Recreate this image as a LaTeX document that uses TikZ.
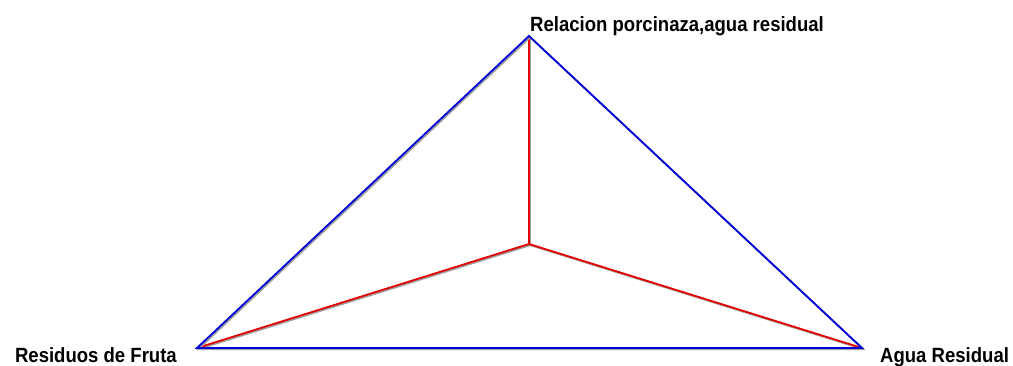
\documentclass[tikz,border=0pt]{standalone}
\usepackage{fontspec}
\setmainfont{Liberation Sans}[FakeStretch=0.9]
\usetikzlibrary{positioning}

\begin{document}
\begin{tikzpicture}[
  x=1pt, y=-1pt,
  every node/.style = {font=\bfseries\fontsize{20.6}{23}\selectfont, inner sep=0pt},
  side/.style = {
    blue!85!black,
    line width=1.8pt,
    line join=miter,
    preaction={draw=gray!75, line width=1.8pt,
      transform canvas={shift={(1.2pt,-1.2pt)}}}
  },
  spoke/.style = {
    red!90!black,
    line width=1.8pt,
    preaction={draw=gray!75, line width=1.8pt,
      transform canvas={shift={(1.2pt,-1.2pt)}}}
  }
]
\useasboundingbox (0,0) rectangle (1013,365);

\coordinate (top) at (529,36);
\coordinate (left) at (197,348);
\coordinate (right) at (862,348);
\coordinate (mid) at (529,244);

% spokes from the middle point
\draw[spoke] (mid) -- (top);
\draw[spoke] (mid) -- (left);
\draw[spoke] (mid) -- (right);

% outer triangle
\draw[side] (top) -- (right) -- (left) -- cycle;

\node[anchor=base west] (ltop) at ([shift={(1,-5)}]top) {Relacion porcinaza,agua residual};
\node[anchor=base east] (lleft) at ([shift={(-20,14)}]left) {Residuos de Fruta};
\node[anchor=base west] (lright) at ([shift={(18,14)}]right) {Agua Residual};

\end{tikzpicture}
\end{document}
